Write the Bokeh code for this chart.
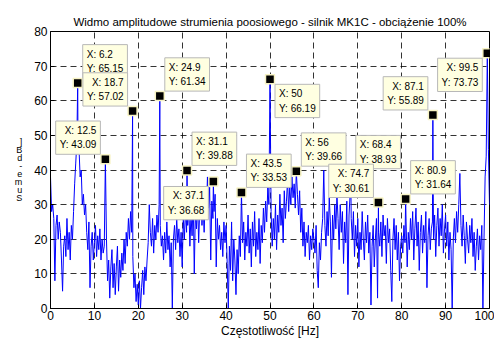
import numpy as np
from bokeh.plotting import figure
from bokeh.models import Range1d, Label, FixedTicker
from bokeh.embed import file_html
from bokeh.resources import INLINE

# ---------------- data ----------------
title_text = "Widmo amplitudowe strumienia poosiowego - silnik MK1C - obciążenie 100%"
x_label_text = "Częstotliwość [Hz]"
y_label_chars = ["]", "B", "d", "-", "e", "m", "u", "S"]
x_ticks = [0, 10, 20, 30, 40, 50, 60, 70, 80, 90, 100]
y_ticks = [0, 10, 20, 30, 40, 50, 60, 70, 80]

freq_step = 0.25  # Hz between spectrum samples
band_00 = [38, 28, 30, 26, 8, 24, 27, 20, 25, 22, 14, 5, 18, 21, 15, 26, 17, 22, 14, 24]
band_05 = [20, 28, 36, 42, 48, 50, 46, 38, 40, 30, 33, 27, 30, 22, 17, 25, 6, 18, 22, 14]
band_10 = [19, 24, 15, 21, 17, 23, 14, 20, 16, 18, 43.09, 20, 8, 14, 3, 12, 17, 6, 13, 4]
band_15 = [12, 18, 5, 14, 9, 16, 11, 20, 13, 22, 18, 26, 20, 28, 22, 15, 6, 10, 2, 7]
band_20 = [1, 8, 0, 6, 11, 4, 12, 8, 14, 19, 30, 22, 18, 26, 16, 24, 20, 27, 22, 30]
band_25 = [24, 18, 21, 14, 22, 16, 25, 17, 21, 12, 19, 0, 20, 24, 17, 26, 19, 23, 15, 22]
band_30 = [12, 26, 20, 29, 22, 24, 30, 18, 27, 21, 33, 10, 28, 23, 31, 19, 29, 34, 24, 30]
band_35 = [22, 33, 27, 38, 29, 35, 14, 31, 26, 28, 33, 12, 26, 20, 24, 17, 22, 15, 25, 19]
band_40 = [24, 13, 0, 18, 11, 25, 8, 20, 14, 4, 17, 10, 21, 15, 33.53, 19, 25, 14, 22, 18]
band_45 = [27, 16, 23, 12, 25, 18, 28, 15, 22, 17, 26, 13, 24, 19, 29, 22, 31, 25, 35, 30]
band_50 = [66.19, 28, 18, 26, 20, 30, 17, 27, 22, 33, 24, 29, 19, 34, 26, 31, 37, 28, 35, 30]
band_55 = [38, 32, 36, 29, 39.66, 33, 27, 34, 22, 29, 18, 25, 15, 22, 19, 24, 14, 21, 17, 23]
band_60 = [20, 16, 24, 11, 6, 19, 14, 22, 26, 40, 24, 18, 28, 21, 32, 25, 9, 27, 20, 30]
band_65 = [23, 33, 26, 17, 30, 22, 28, 13, 25, 19, 31, 4, 27, 33, 26, 20, 28, 15, 24, 18]
band_70 = [26, 12, 22, 17, 28, 20, 14, 25, 19, 27, 16, 22, 1, 18, 24, 12, 20, 26, 3, 22]
band_75 = [18, 25, 15, 27, 21, 24, 13, 26, 19, 23, 11, 2, 20, 26, 17, 24, 14, 22, 8, 18]
band_80 = [21, 16, 24, 19, 25, 12, 22, 17, 26, 20, 28, 14, 23, 29, 18, 25, 11, 22, 27, 16]
band_85 = [24, 19, 28, 6, 21, 26, 17, 23, 25, 20, 27, 15, 24, 29, 18, 26, 21, 30, 16, 23]
band_90 = [27, 18, 25, 14, 22, 17, 0, 20, 26, 19, 28, 22, 30, 39, 24, 18, 27, 21, 13, 25]
band_95 = [20, 16, 24, 19, 26, 15, 22, 11, 18, 23, 14, 21, 17, 24, 0, 20, 38, 44, 73.73, 46, 30]

# data tips (peaks)
tip_x = [6.2, 18.7, 12.5, 24.9, 31.1, 37.1, 43.5, 50, 56, 68.4, 74.7, 80.9, 87.1, 99.5]
tip_y = [65.15, 57.02, 43.09, 61.34, 39.88, 36.68, 33.53, 66.19, 39.66, 38.93, 30.61, 31.64, 55.89, 73.73]
# placement of each tip box relative to its point (layout only)
tip_side = ["NE", "NW", "NW", "NE", "NE", "SW", "NE", "SE", "NE", "NE", "NW", "NE", "NW", "SW"]

# ---------------- build series ----------------
amp = (band_00 + band_05 + band_10 + band_15 + band_20 + band_25 + band_30 + band_35 +
       band_40 + band_45 + band_50 + band_55 + band_60 + band_65 + band_70 + band_75 +
       band_80 + band_85 + band_90 + band_95)
freq = [round(i * freq_step, 2) for i in range(len(amp))]
pts = dict(zip(freq, amp))
for tx, ty in zip(tip_x, tip_y):
    pts[round(tx, 2)] = ty
xs = sorted(pts)
ys = [pts[k] for k in xs]

FONT = "Liberation Sans"

p = figure(width=494, height=340, x_range=Range1d(0, 100), y_range=Range1d(0, 80),
           output_backend="svg", toolbar_location=None,
           min_border_left=50, min_border_right=5, min_border_top=31, min_border_bottom=31)
p.background_fill_color = "white"
p.border_fill_color = "white"
p.outline_line_color = "black"
p.outline_line_alpha = 1

p.title.text = title_text
p.title.align = "center"
p.title.text_font = FONT
p.title.text_font_size = "11.5px"
p.title.text_font_style = "normal"
p.title.text_color = "black"
p.title.standoff = 7

p.xaxis.ticker = FixedTicker(ticks=x_ticks)
p.yaxis.ticker = FixedTicker(ticks=y_ticks)
p.axis.major_tick_in = 4
p.axis.major_tick_out = 0
p.axis.minor_tick_line_color = None
p.axis.axis_line_color = "black"
p.axis.major_tick_line_color = "black"
p.axis.major_label_text_font = FONT
p.axis.major_label_text_font_size = "12px"
p.axis.major_label_text_color = "black"
p.xaxis.major_label_standoff = 2
p.yaxis.major_label_standoff = 3

p.xaxis.axis_label = x_label_text
p.xaxis.axis_label_standoff = 1
p.xaxis.axis_label_text_font = FONT
p.xaxis.axis_label_text_font_size = "12px"
p.xaxis.axis_label_text_font_style = "normal"
p.xaxis.axis_label_text_color = "black"

yax = p.yaxis[0]
yax.axis_label_text_font = FONT
yax.axis_label_text_font_style = "normal"
yax.axis_label_text_color = "black"
try:
    yax.axis_label_orientation = "horizontal"
    yax.axis_label = "\n".join(y_label_chars)
    yax.axis_label_text_font_size = "9px"
    yax.axis_label_text_line_height = 0.8
    yax.axis_label_standoff = 9
except AttributeError:
    yax.axis_label = "".join(y_label_chars)
    yax.axis_label_text_font_size = "10px"
    yax.axis_label_standoff = 10

p.grid.grid_line_color = "black"
p.grid.grid_line_dash = "6 4"
p.grid.grid_line_alpha = 0.8
p.grid.grid_line_width = 1

p.line(xs, ys, line_color="#0000ff", line_width=1)

p.scatter(tip_x, tip_y, marker="square", size=9, fill_color="black",
          line_color="#f7f3c4", line_width=1.5)

for tx, ty, side in zip(tip_x, tip_y, tip_side):
    east = side[1] == "E"
    north = side[0] == "N"
    lab = Label(x=tx, y=ty, text=f"X: {tx:g}\nY: {ty:.2f}",
                x_offset=5 if east else -5, y_offset=5 if north else -5,
                text_align="left" if east else "right",
                text_baseline="bottom" if north else "top",
                text_font=FONT, text_font_size="10px", text_color="black",
                text_line_height=1.3,
                background_fill_color="#ffffe1", border_line_color="#b8b8b8",
                border_line_width=1, padding=4)
    p.add_layout(lab)

open("out.html", "w").write(file_html(p, INLINE))
